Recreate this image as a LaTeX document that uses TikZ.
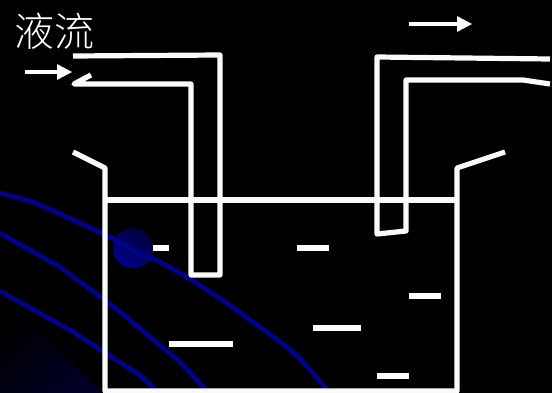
\documentclass[tikz,border=0pt]{standalone}
\usepackage{fontspec}
\newfontfamily\cjk{Noto Sans CJK SC Light}
\definecolor{wire}{RGB}{250,250,250}
\definecolor{curveblue}{RGB}{0,0,140}
\tikzset{
  wall/.style={draw=wire,line width=5.2pt,line join=round},
  particle/.style={draw=white,line width=5.4pt},
  flowline/.style={draw=white,line width=4.6pt},
  flowhead/.style={fill=white,draw=none},
  swirl/.style={draw=curveblue,line width=4.6pt}
}
\begin{document}
\begin{tikzpicture}[x=1pt,y=-1pt]
\fill[black] (0,0) rectangle (552,393);
\useasboundingbox (0,0) rectangle (552,393);
% corner glow
\begin{scope}
\clip (0,296) -- (103,393) -- (0,393) -- cycle;
\shade[shading=axis,bottom color=black!75!blue!60!black,top color=black,shading angle=45]
  (0,296) rectangle (103,393);
\end{scope}
% curves
\draw[swirl] (0,193) .. controls (15,197) and (30,200) .. (40,205) .. controls (70,218) and (140,250) .. (180,273)
  .. controls (210,291) and (230,305) .. (250,320) .. controls (275,338) and (296,352) .. (310,370) -- (329,392);
\draw[swirl] (0,233) -- (60,267) .. controls (80,282) and (110,303) .. (130,320) -- (180,362) -- (208,392);
\draw[swirl] (0,291) -- (70,330) -- (140,375) -- (158,392);
% ball
\shade[shading=axis,top color=black!60!blue!55!black,bottom color=curveblue,shading angle=-35] (133,248) circle (20);
\draw[curveblue,line width=4.6pt,opacity=0.9] (113,239) -- (153,260);
% vessel
\draw[wall] (73,152) -- (105,168) -- (105,391) -- (457,391) -- (457,168) -- (505,152);
\draw[wall] (105,200) -- (457,200);
% tubes
\draw[wall] (73,56) -- (220,55) -- (220,275) -- (191,275) -- (191,84) -- (74,84) -- (91,75);
\draw[wall] (550,59) -- (377,57) -- (377,234) -- (406,231) -- (406,80) -- (523,80) -- (550,84);
% particles
\draw[particle] (153,248) -- (169,248);
\draw[particle] (169,344) -- (233,344);
\draw[particle] (297,248) -- (329,248);
\draw[particle] (409,296) -- (441,296);
\draw[particle] (313,328) -- (361,328);
\draw[particle] (377,376) -- (409,376);
% arrows
\draw[flowline] (25,72) -- (58,72);
\fill[flowhead] (57,64) -- (72,72) -- (57,80) -- cycle;
\draw[flowline] (409,24) -- (458,24);
\fill[flowhead] (457,16) -- (472,24) -- (457,32) -- cycle;
% label
\node[text=white,inner sep=0pt,anchor=center,font=\cjk\fontsize{40}{40}\selectfont] (liquid) at (54.5,31) {液流};
\end{tikzpicture}
\end{document}
